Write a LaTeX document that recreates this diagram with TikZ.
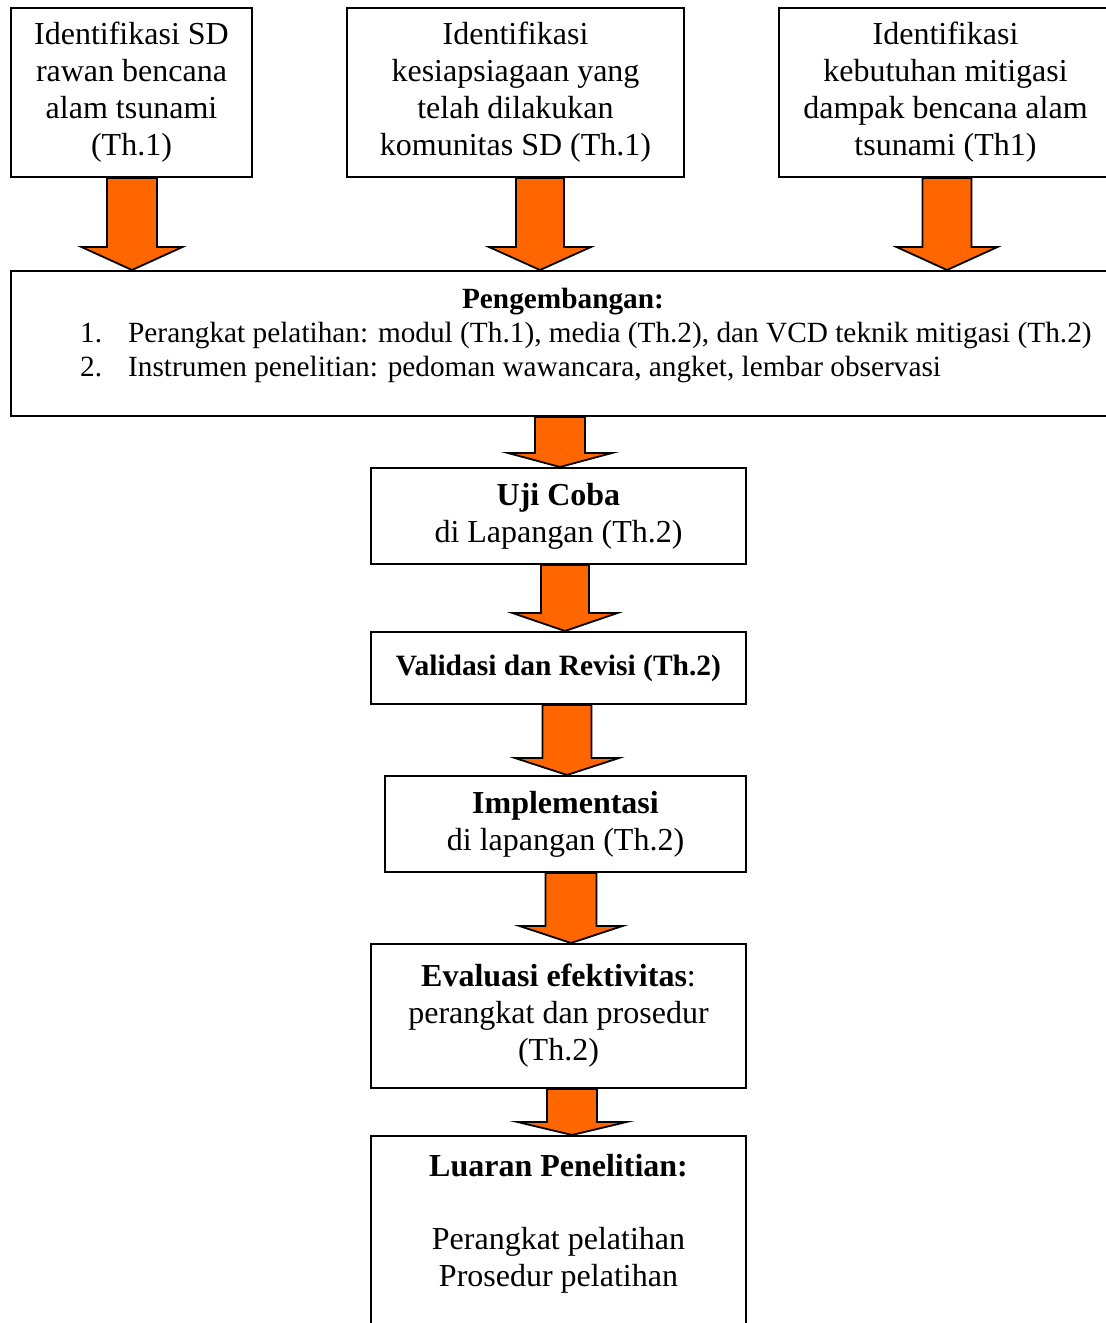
\documentclass[tikz,border=0pt]{standalone}
\usepackage{fontspec}
\setmainfont{Liberation Serif}
\usepackage{tikz}
\usetikzlibrary{calc}
\definecolor{oranye}{RGB}{255, 102, 0}

% x, top node, bottom node, half shaft, half head, head length
\newcommand{\panah}[6]{%
  \draw[panahgaya] let \p1 = (#2.south), \p2 = (#3.north) in
    (#1-#4, \y1) -- (#1-#4, \y2+#6pt) -- (#1-#5, \y2+#6pt) -- (#1, \y2)
    -- (#1+#5, \y2+#6pt) -- (#1+#4, \y2+#6pt) -- (#1+#4, \y1) -- cycle;
}

\begin{document}
\begin{tikzpicture}[x=1pt, y=-1pt,
    kotak/.style={draw, line width=2pt, align=center, inner sep=0pt,
      font=\fontsize{32}{37}\selectfont},
    teks/.style={align=center, inner sep=0pt, font=\fontsize{32}{37}\selectfont},
    isi/.style={align=left, inner sep=0pt, font=\fontsize{29.3}{34}\selectfont},
    panahgaya/.style={draw=black, fill=oranye, line width=1.8pt, line join=miter}]
  \useasboundingbox (0, 0) rectangle (1106, 1323);

  % identification boxes
  \node[kotak, minimum width=241pt, minimum height=169pt] (sd) at (131.5, 92.5)
    {Identifikasi SD\\rawan bencana\\alam tsunami\\(Th.1)};
  \node[kotak, minimum width=337pt, minimum height=169pt] (siaga) at (515.5, 92.5)
    {Identifikasi\\kesiapsiagaan yang\\telah dilakukan\\komunitas SD (Th.1)};
  \node[kotak, minimum width=333pt, minimum height=169pt] (mitigasi) at (945.5, 92.5)
    {Identifikasi\\kebutuhan mitigasi\\dampak bencana alam\\tsunami (Th1)};

  % development
  \node[kotak, minimum width=1101pt, minimum height=145pt] (kembang) at (561.5, 343.5) {};
  \node[teks, font=\fontsize{29.3}{34}\selectfont\bfseries] (kembangjudul) at (563, 302) {Pengembangan:};
  \node[isi, anchor=west] (kembanglist) at (80, 353)
    {\begin{tabular}{@{}p{48pt}@{}l@{}}
      1. & Perangkat pelatihan: modul (Th.1), media (Th.2), dan VCD teknik mitigasi (Th.2)\\
      2. & Instrumen penelitian: pedoman wawancara, angket, lembar observasi
    \end{tabular}};

  % main flow
  \node[kotak, minimum width=375pt, minimum height=96pt] (ujicoba) at (558.5, 516)
    {\textbf{Uji Coba}\\di Lapangan (Th.2)};
  \node[kotak, minimum width=375pt, minimum height=72pt, font=\fontsize{29.5}{34}\selectfont]
    (validasi) at (558.5, 668) {\textbf{Validasi dan Revisi (Th.2)}};
  \node[kotak, minimum width=361pt, minimum height=96pt] (implementasi) at (565.5, 824)
    {\textbf{Implementasi}\\di lapangan (Th.2)};
  \node[kotak, minimum width=375pt, minimum height=144pt] (evaluasi) at (558.5, 1016)
    {\textbf{Evaluasi efektivitas}:\\perangkat dan prosedur\\(Th.2)};
  \node[kotak, minimum width=375pt, minimum height=200pt] (luaran) at (558.5, 1236) {};
  \node[teks] (luarantxt) at (558.5, 1224)
    {\textbf{Luaran Penelitian:}\\[36pt]Perangkat pelatihan\\Prosedur pelatihan};

  % block arrows
  \panah{132}{sd}{kembang}{25}{50.5}{23}
  \panah{540}{siaga}{kembang}{24}{51}{23}
  \panah{947}{mitigasi}{kembang}{24.5}{50.5}{23}
  \panah{560}{kembang}{ujicoba}{25}{52}{14}
  \panah{565}{ujicoba}{validasi}{24}{52.5}{18}
  \panah{567}{validasi}{implementasi}{24.5}{52}{17}
  \panah{571}{implementasi}{evaluasi}{25.5}{51.5}{17}
  \panah{572}{evaluasi}{luaran}{25}{54.5}{13}
\end{tikzpicture}
\end{document}
